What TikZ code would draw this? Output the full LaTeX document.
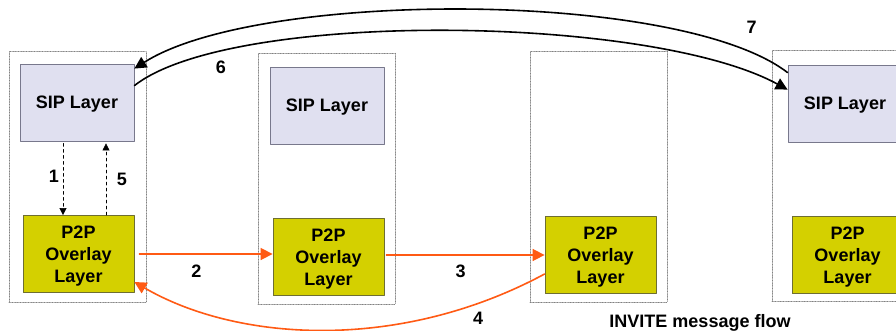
\documentclass[tikz,border=0pt]{standalone}
\usepackage{fontspec}
\setmainfont{Liberation Sans}
\usetikzlibrary{arrows.meta}
\definecolor{sipfill}{RGB}{224,224,240}
\definecolor{sipline}{RGB}{120,120,140}
\definecolor{ovlfill}{RGB}{212,208,0}
\definecolor{ovlline}{RGB}{110,110,50}
\definecolor{msgred}{RGB}{255,90,20}
\tikzset{
  peer/.style={draw=gray,densely dotted,line width=0.6pt,minimum width=137pt,minimum height=251pt,inner sep=0pt},
  sipbox/.style={draw=sipline,fill=sipfill,line width=0.8pt,minimum width=114pt,minimum height=77pt,inner sep=0pt,text depth=0pt,font=\fontsize{18}{22}\selectfont\bfseries},
  ovlbox/.style={draw=ovlline,fill=ovlfill,line width=0.8pt,minimum width=111pt,minimum height=77pt,inner sep=0pt,text depth=0pt,align=center,font=\fontsize{18}{22}\selectfont\bfseries},
  msgno/.style={inner sep=0pt,font=\fontsize{18}{22}\selectfont\bfseries},
  stackmsg/.style={dashed,line width=0.6pt,-{Triangle[length=7pt,width=7pt]}},
  hopmsg/.style={draw=msgred,line width=1.6pt,-{Triangle[length=12pt,width=12pt]}},
  sipmsg/.style={line width=1.6pt,-{Triangle[length=12pt,width=12pt]}}
}
\begin{document}
\begin{tikzpicture}[line cap=round,line join=round,x=1pt,y=-1pt]
				\useasboundingbox (0,0) rectangle (896,331);
				\clip (0,0) rectangle (896,331);
				\node[peer] (peerA) at (77.5,177) {};
				\node[peer] (peerB) at (326.5,178.5) {};
				\node[peer] (peerC) at (598.5,176.5) {};
				\node[peer] (peerD) at (840.5,175.5) {};
				\node[sipbox] (sipA) at (77,102.5) {SIP Layer};
				\node[sipbox] (sipB) at (327,105.5) {SIP Layer};
				\node[sipbox] (sipD) at (845,103.5) {SIP Layer};
				\node[ovlbox] (ovlA) at (78.5,254) {P2P\\Overlay\\Layer};
				\node[ovlbox] (ovlB) at (328.5,257) {P2P\\Overlay\\Layer};
				\node[ovlbox] (ovlC) at (600.5,255) {P2P\\Overlay\\Layer};
				\node[ovlbox] (ovlD) at (847.5,255) {P2P\\Overlay\\Layer};
				\draw[stackmsg,shorten <=2pt] ([xshift=-14pt]sipA.south) -- ([xshift=-14pt]sipA.south |- ovlA.north);
				\draw[stackmsg,shorten >=2pt] ([xshift=29pt]sipA.south |- ovlA.north) -- ([xshift=29pt]sipA.south);
				\draw[hopmsg,shorten <=5pt] (ovlA.east) -- (ovlA.east -| ovlB.west);
				\draw[hopmsg,shorten <=2pt] (ovlC.west -| ovlB.east) -- (ovlC.west);
				\draw[hopmsg] ([yshift=-19pt]ovlC.west) .. controls +(-145,78) and +(103,60) .. ([yshift=-28pt]ovlA.east);
				\draw[sipmsg] ([yshift=-8pt]sipD.north west) .. controls +(-108,-83) and +(124,-79) .. ([yshift=-5pt]sipA.north east);
				\draw[sipmsg] ([yshift=-22pt]sipA.north east) .. controls +(97,-76) and +(-138,-75) .. ([yshift=-25pt]sipD.north west);
				\node[msgno] (labA) at (54,176.5) {1};
				\node[msgno] (labB) at (196.5,271.5) {2};
				\node[msgno] (labC) at (460.5,271.5) {3};
				\node[msgno] (labD) at (478,318) {4};
				\node[msgno] (labE) at (122,179) {5};
				\node[msgno] (labF) at (221,67.5) {6};
				\node[msgno] (labG) at (751.5,27) {7};
				\node[msgno,anchor=base] (caption) at (700,327) {INVITE message flow};
			\end{tikzpicture}
\end{document}
